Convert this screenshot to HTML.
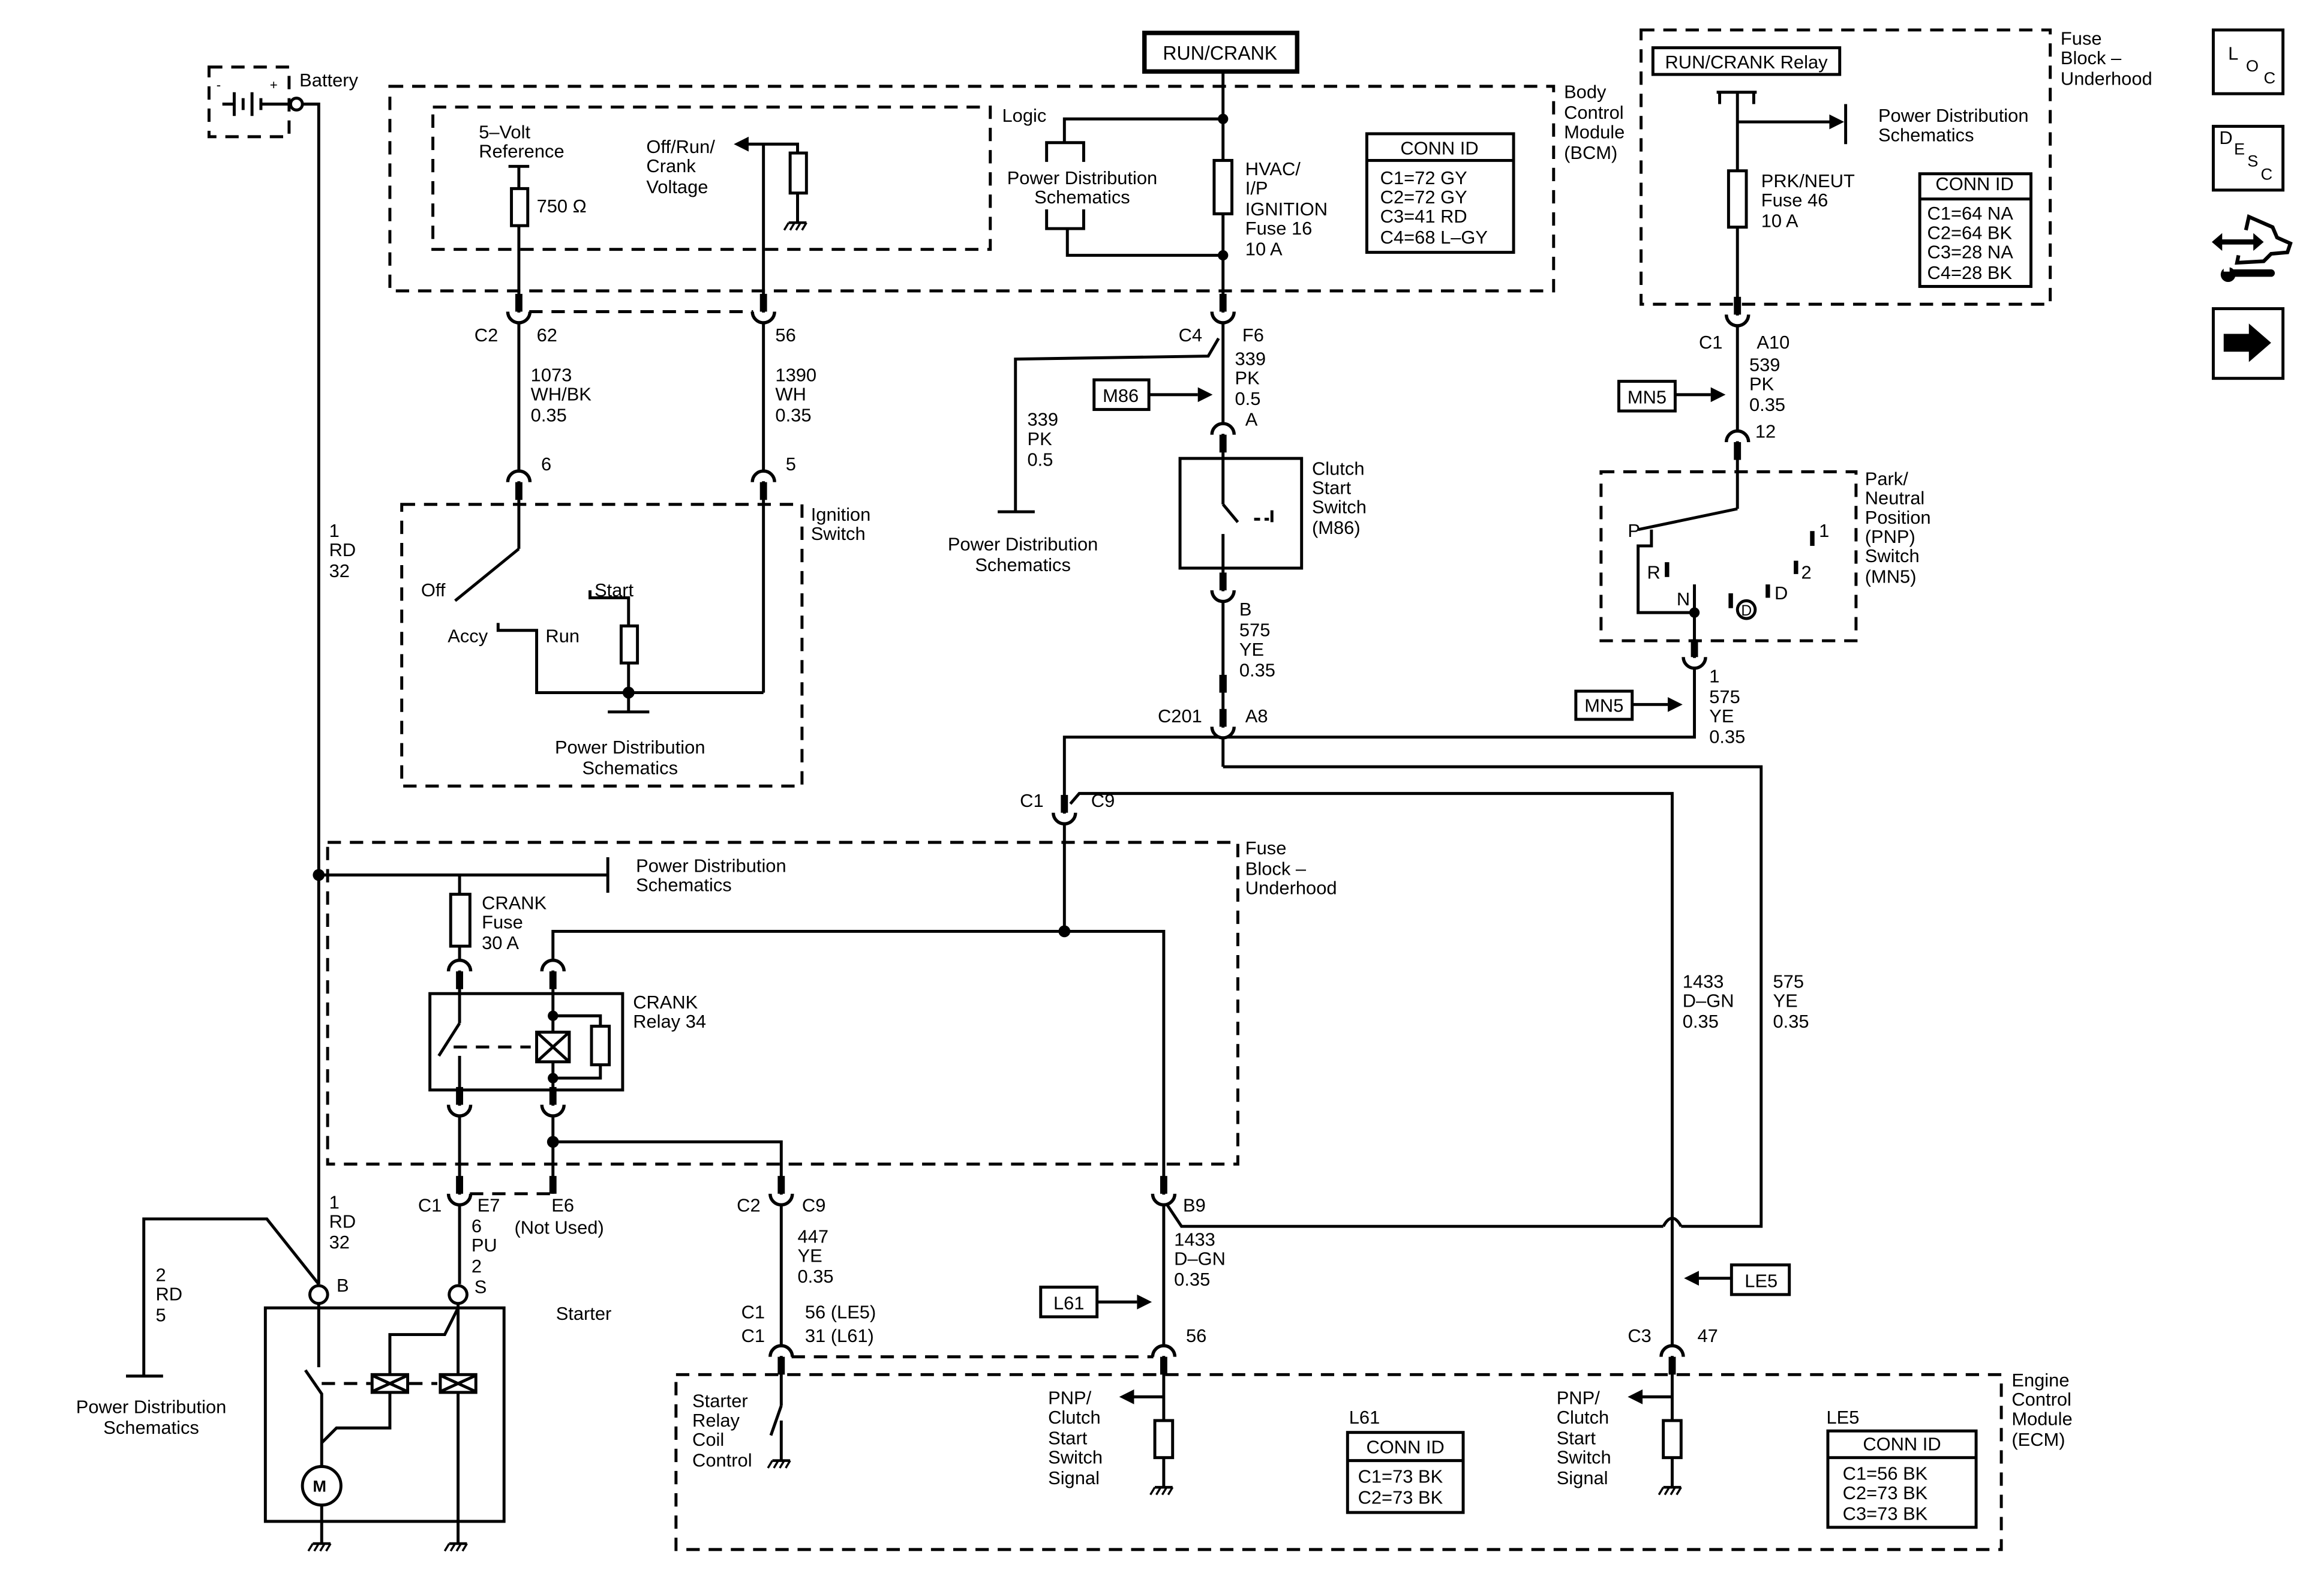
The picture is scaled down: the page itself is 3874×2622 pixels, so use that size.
<!DOCTYPE html>
<html><head><meta charset="utf-8"><style>
html,body{margin:0;padding:0;background:#fff;}
svg{display:block;}
text{font-family:"Liberation Sans",Arial,sans-serif;font-size:12.5px;fill:#000;}
</style></head><body>
<svg width="3874" height="2622" viewBox="0 0 1552 1050" xmlns="http://www.w3.org/2000/svg">
<defs>
<g id="cup"><rect x="-3.2" y="0.6" width="6.4" height="6.6" fill="#fff"/><rect x="-2.4" y="-12" width="4.8" height="12" fill="#000"/><path d="M-7.5,0 A7.5,7.5 0 0 0 7.5,0" fill="none" stroke="#000" stroke-width="2.2"/></g>
<g id="arch"><rect x="-3.2" y="-7.2" width="6.4" height="6.6" fill="#fff"/><rect x="-2.4" y="0" width="4.8" height="12" fill="#000"/><path d="M-7.5,0 A7.5,7.5 0 0 1 7.5,0" fill="none" stroke="#000" stroke-width="2.2"/></g>
<g id="gnd"><line x1="-6" y1="0" x2="6" y2="0" stroke="#000" stroke-width="1.8"/><line x1="-6" y1="0" x2="-9" y2="5" stroke="#000" stroke-width="1.4"/><line x1="-2" y1="0" x2="-5" y2="5" stroke="#000" stroke-width="1.4"/><line x1="2" y1="0" x2="-1" y2="5" stroke="#000" stroke-width="1.4"/><line x1="6" y1="0" x2="3" y2="5" stroke="#000" stroke-width="1.4"/></g>
</defs>
<g transform="scale(0.99)">
<g fill="none" stroke="#000" stroke-width="2">
<g stroke-dasharray="9,6">
<rect x="141" y="45" width="54" height="47"/>
<rect x="263" y="58" width="785" height="138"/>
<rect x="292" y="72" width="376" height="96"/>
<rect x="271" y="340" width="270" height="190"/>
<rect x="221" y="568" width="614" height="217"/>
<rect x="456" y="927" width="894" height="118"/>
<rect x="1107" y="20" width="276" height="185"/>
<rect x="1080" y="318" width="172" height="114"/>
<line x1="357" y1="210" x2="508" y2="210"/>
<line x1="534" y1="915" x2="778" y2="915"/>
<line x1="317" y1="805" x2="371" y2="805"/>
<line x1="306" y1="706" x2="358" y2="706"/>
<line x1="217" y1="933" x2="250" y2="933"/>
<line x1="276" y1="933" x2="295" y2="933"/>
</g>
<line x1="150" y1="70" x2="158" y2="70"/><line x1="158" y1="62" x2="158" y2="78"/><line x1="164" y1="66" x2="164" y2="74"/><line x1="170" y1="62" x2="170" y2="78"/><line x1="176" y1="66" x2="176" y2="74"/><line x1="176" y1="70" x2="196" y2="70"/>
<circle cx="200" cy="70" r="4" fill="#fff"/>
<polyline points="204,70 215,70 215,866"/>
<line x1="215" y1="590" x2="410" y2="590"/>
<line x1="410" y1="578" x2="410" y2="602"/>
<line x1="343" y1="112" x2="357" y2="112"/>
<line x1="350" y1="112" x2="350" y2="370"/>
<rect x="345" y="127" width="11" height="25" fill="#fff"/>
<line x1="515" y1="97" x2="515" y2="467"/>
<polyline points="497,97 538,97 538,150"/>
<rect x="533" y="103" width="11" height="27" fill="#fff"/>
<line x1="350" y1="370" x2="307" y2="405"/>
<polyline points="515,467 362,467 362,425 336,425 336,420"/>
<polyline points="398,398 398,403 424,403 424,480"/>
<rect x="419" y="422" width="11" height="25" fill="#fff"/>
<line x1="410" y1="480" x2="438" y2="480"/>
<rect x="772" y="22" width="103" height="26" stroke-width="3"/>
<line x1="825" y1="48" x2="825" y2="340"/>
<polyline points="825,80 718,80 718,96"/>
<polyline points="706,109 706,96 731,96 731,109"/>
<polyline points="706,141 706,154 731,154 731,141"/>
<polyline points="720,154 720,172 825,172"/>
<rect x="819" y="108" width="12" height="36" fill="#fff"/>
<rect x="922" y="90" width="99" height="80"/>
<line x1="922" y1="108" x2="1021" y2="108"/>
<polyline points="822,228 815,240 685,242 685,345"/>
<line x1="673" y1="345" x2="698" y2="345"/>
<rect x="796" y="309" width="82" height="74"/>
<line x1="825" y1="340" x2="835" y2="352"/>
<line x1="846" y1="350" x2="856" y2="350" stroke-dasharray="4,3"/><line x1="858" y1="344" x2="858" y2="352"/>
<line x1="825" y1="360" x2="825" y2="517"/>
<line x1="825" y1="455" x2="825" y2="467" stroke-width="5"/>
<polyline points="718,628 718,497 1143,497 1143,398"/>
<polyline points="825,517 1188,517 1188,827 1134,827"/>
<path d="M1122,827 Q1128,816 1134,827"/>
<polyline points="1122,827 797,827 787,812"/>
<polyline points="722,542 728,535 1128,535 1128,958"/>
<polyline points="373,655 373,628 785,628 785,958"/>
<line x1="310" y1="590" x2="310" y2="690"/>
<line x1="310" y1="712" x2="310" y2="866"/>
<rect x="304" y="603" width="13" height="35" fill="#fff"/>
<rect x="290" y="670" width="130" height="65"/>
<line x1="310" y1="690" x2="296" y2="712"/>
<line x1="373" y1="655" x2="373" y2="805"/>
<rect x="362" y="696" width="22" height="20" fill="#fff"/>
<line x1="362" y1="696" x2="384" y2="716"/><line x1="384" y1="696" x2="362" y2="716"/>
<polyline points="373,685 405,685 405,727 373,727"/>
<rect x="399" y="692" width="12" height="26" fill="#fff"/>
<polyline points="373,770 527,770 527,948"/>
<rect x="179" y="882" width="161" height="144"/>
<polyline points="97,928 97,822 180,822 215,866"/>
<line x1="85" y1="928" x2="110" y2="928"/>
<circle cx="215" cy="873" r="6" fill="#fff"/>
<circle cx="309" cy="873" r="6" fill="#fff"/>
<line x1="215" y1="879" x2="215" y2="922"/>
<polyline points="206,924 217,940 217,989"/>
<circle cx="217" cy="1002" r="13" fill="#fff"/>
<line x1="217" y1="1015" x2="217" y2="1041"/>
<line x1="309" y1="879" x2="309" y2="1041"/>
<polyline points="217,973 227,963 263,963 263,939"/>
<polyline points="263,927 263,900 300,900 309,882"/>
<rect x="251" y="927" width="24" height="12" fill="#fff"/><line x1="252" y1="928" x2="274" y2="938"/><line x1="274" y1="928" x2="252" y2="938"/>
<rect x="297" y="927" width="24" height="12" fill="#fff"/><line x1="298" y1="928" x2="320" y2="938"/><line x1="320" y1="928" x2="298" y2="938"/>
<line x1="527" y1="948" x2="520" y2="968"/>
<line x1="527" y1="958" x2="527" y2="985"/>
<line x1="785" y1="942" x2="760" y2="942"/>
<rect x="779" y="958" width="12" height="25" fill="#fff"/>
<line x1="785" y1="983" x2="785" y2="1003"/>
<line x1="1128" y1="942" x2="1103" y2="942"/>
<rect x="1122" y="958" width="12" height="25" fill="#fff"/>
<line x1="1128" y1="983" x2="1128" y2="1003"/>
<rect x="909" y="966" width="78" height="54"/><line x1="909" y1="985" x2="987" y2="985"/>
<rect x="1233" y="965" width="100" height="65"/><line x1="1233" y1="983" x2="1333" y2="983"/>
<rect x="1115" y="32" width="126" height="18"/>
<line x1="1158" y1="62" x2="1185" y2="62"/><line x1="1160" y1="62" x2="1160" y2="70"/><line x1="1183" y1="62" x2="1183" y2="70"/>
<line x1="1172" y1="62" x2="1172" y2="343"/>
<line x1="1172" y1="82" x2="1235" y2="82"/>
<line x1="1245" y1="70" x2="1245" y2="97"/>
<rect x="1166" y="115" width="12" height="38" fill="#fff"/>
<rect x="1295" y="117" width="75" height="76"/><line x1="1295" y1="134" x2="1370" y2="134"/>
<polyline points="1172,343 1105,357"/>
<polyline points="1114,357 1114,368 1105,368 1105,413 1143,413"/>
<line x1="1143" y1="394" x2="1143" y2="443"/>
<circle cx="1178" cy="411" r="6"/>
<line x1="775" y1="266" x2="808" y2="266"/>
<line x1="740" y1="878" x2="767" y2="878"/>
<line x1="1146" y1="862" x2="1168" y2="862"/>
<line x1="1130" y1="266" x2="1154" y2="266"/>
<line x1="1101" y1="475" x2="1125" y2="475"/>
<rect x="1493" y="20" width="47" height="43"/>
<rect x="1493" y="85" width="47" height="43"/>
<rect x="1493" y="208" width="47" height="47"/>
<polyline points="1515,155 1517,146 1533,153 1536,160 1545,164 1543,170 1532,171 1527,176 1509,177 1510,172" stroke-width="2.5"/>
<line x1="1506" y1="184" x2="1532" y2="184" stroke-width="5" stroke-linecap="round"/>
<line x1="1496" y1="163" x2="1522" y2="163" stroke-width="3.5"/>
</g>
<g fill="#000">
<circle cx="215" cy="590" r="4"/><circle cx="424" cy="467" r="4"/><circle cx="718" cy="628" r="4"/><circle cx="373" cy="770" r="4"/><circle cx="825" cy="80" r="3.5"/><circle cx="825" cy="172" r="3.5"/>
<circle cx="373" cy="685" r="3.5"/><circle cx="373" cy="727" r="3.5"/><circle cx="1143" cy="413" r="3.5"/>
<rect x="1123" y="379" width="3" height="10"/><rect x="1166" y="400" width="3" height="10"/><rect x="1191" y="394" width="3" height="9"/><rect x="1210" y="378" width="3" height="9"/><rect x="1221" y="358" width="3" height="10"/>
<polygon points="495,97 505,92 505,102"/>
<polygon points="818,266 808,261 808,271"/><polygon points="777,878 767,873 767,883"/><polygon points="1136,862 1146,857 1146,867"/>
<polygon points="1164,266 1154,261 1154,271"/><polygon points="1135,475 1125,470 1125,480"/>
<polygon points="755,942 765,937 765,947"/><polygon points="1098,942 1108,937 1108,947"/>
<polygon points="1244,82 1234,77 1234,87"/>
<polygon points="1500,225 1517,225 1517,218 1532,231 1517,244 1517,237 1500,237"/>
<polygon points="1492,163 1499,157 1499,169"/><polygon points="1527,163 1520,157 1520,169"/>
<circle cx="1503" cy="185" r="5"/>
</g>
<rect x="1500" y="180" width="4" height="3" fill="#fff"/>
<use href="#cup" x="350" y="210"/><use href="#cup" x="515" y="210"/><use href="#cup" x="825" y="210"/><use href="#cup" x="1172" y="212"/>
<use href="#arch" x="350" y="325"/><use href="#arch" x="515" y="325"/><use href="#arch" x="825" y="293"/><use href="#arch" x="1172" y="298"/>
<use href="#cup" x="825" y="398"/><use href="#cup" x="825" y="490"/><use href="#cup" x="1143" y="443"/><use href="#cup" x="718" y="548"/>
<use href="#arch" x="310" y="655"/><use href="#arch" x="373" y="655"/><use href="#cup" x="310" y="745"/><use href="#cup" x="373" y="745"/>
<use href="#cup" x="310" y="805"/><use href="#cup" x="527" y="805"/><use href="#cup" x="785" y="805"/>
<rect x="370.6" y="793" width="4.8" height="12" fill="#000"/>
<use href="#arch" x="527" y="915"/><use href="#arch" x="785" y="915"/><use href="#arch" x="1128" y="915"/>
<use href="#gnd" x="538" y="150"/><use href="#gnd" x="527" y="985"/><use href="#gnd" x="785" y="1003"/><use href="#gnd" x="1128" y="1003"/><use href="#gnd" x="217" y="1041"/><use href="#gnd" x="309" y="1041"/>
<g fill="none" stroke="#000" stroke-width="2">
<rect x="738" y="256" width="37" height="20"/><rect x="702" y="868" width="38" height="20"/><rect x="1168" y="853" width="39" height="20"/>
<rect x="1092" y="257" width="38" height="20"/><rect x="1063" y="466" width="38" height="19"/>
</g>
<text x="202" y="58">Battery</text><text x="146" y="60" style="font-size:9px">-</text><text x="182" y="60" style="font-size:9px">+</text>
<text x="823" y="40" text-anchor="middle" style="font-size:13px">RUN/CRANK</text>
<text x="1178" y="46" text-anchor="middle">RUN/CRANK Relay</text>
<text x="676" y="82">Logic</text>
<text x="323" y="93">5–Volt</text><text x="323" y="106">Reference</text><text x="362" y="143">750 Ω</text>
<text x="436" y="103">Off/Run/</text><text x="436" y="116">Crank</text><text x="436" y="130">Voltage</text>
<text x="730" y="124" text-anchor="middle">Power Distribution</text><text x="730" y="137" text-anchor="middle">Schematics</text>
<text x="840" y="118">HVAC/</text><text x="840" y="131">I/P</text><text x="840" y="145">IGNITION</text><text x="840" y="158">Fuse 16</text><text x="840" y="172">10 A</text>
<text x="971" y="104" text-anchor="middle">CONN ID</text>
<text x="931" y="124">C1=72 GY</text><text x="931" y="137">C2=72 GY</text><text x="931" y="150">C3=41 RD</text><text x="931" y="164">C4=68 L–GY</text>
<text x="1055" y="66">Body</text><text x="1055" y="80">Control</text><text x="1055" y="93">Module</text><text x="1055" y="107">(BCM)</text>
<text x="1390" y="30">Fuse</text><text x="1390" y="43">Block –</text><text x="1390" y="57">Underhood</text>
<text x="1267" y="82">Power Distribution</text><text x="1267" y="95">Schematics</text>
<text x="1188" y="126">PRK/NEUT</text><text x="1188" y="139">Fuse 46</text><text x="1188" y="153">10 A</text>
<text x="1332" y="128" text-anchor="middle">CONN ID</text>
<text x="1300" y="148">C1=64 NA</text><text x="1300" y="161">C2=64 BK</text><text x="1300" y="174">C3=28 NA</text><text x="1300" y="188">C4=28 BK</text>
<text x="1503" y="40">L</text><text x="1515" y="48" style="font-size:11px">O</text><text x="1527" y="56" style="font-size:11px">C</text>
<text x="1497" y="97">D</text><text x="1507" y="104" style="font-size:11px">E</text><text x="1516" y="112" style="font-size:11px">S</text><text x="1525" y="121" style="font-size:11px">C</text>
<text x="320" y="230">C2</text><text x="362" y="230">62</text><text x="523" y="230">56</text>
<text x="795" y="230">C4</text><text x="838" y="230">F6</text>
<text x="1146" y="235">C1</text><text x="1185" y="235">A10</text>
<text x="358" y="257">1073</text><text x="358" y="270">WH/BK</text><text x="358" y="284">0.35</text>
<text x="523" y="257">1390</text><text x="523" y="270">WH</text><text x="523" y="284">0.35</text>
<text x="833" y="246">339</text><text x="833" y="259">PK</text><text x="833" y="273">0.5</text><text x="840" y="287">A</text>
<text x="693" y="287">339</text><text x="693" y="300">PK</text><text x="693" y="314">0.5</text>
<text x="756" y="271" text-anchor="middle">M86</text>
<text x="1180" y="250">539</text><text x="1180" y="263">PK</text><text x="1180" y="277">0.35</text><text x="1184" y="295">12</text>
<text x="1111" y="272" text-anchor="middle">MN5</text>
<text x="365" y="317">6</text><text x="530" y="317">5</text>
<text x="547" y="351">Ignition</text><text x="547" y="364">Switch</text>
<text x="690" y="371" text-anchor="middle">Power Distribution</text><text x="690" y="385" text-anchor="middle">Schematics</text>
<text x="885" y="320">Clutch</text><text x="885" y="333">Start</text><text x="885" y="346">Switch</text><text x="885" y="360">(M86)</text>
<text x="1258" y="327">Park/</text><text x="1258" y="340">Neutral</text><text x="1258" y="353">Position</text><text x="1258" y="366">(PNP)</text><text x="1258" y="379">Switch</text><text x="1258" y="393">(MN5)</text>
<text x="1098" y="362">P</text><text x="1111" y="390">R</text><text x="1131" y="408">N</text><text x="1197" y="404">D</text><text x="1174.5" y="415" style="font-size:10px">D</text><text x="1227" y="362">1</text><text x="1215" y="390">2</text>
<text x="284" y="402">Off</text><text x="302" y="433">Accy</text><text x="368" y="433">Run</text><text x="401" y="402">Start</text>
<text x="425" y="508" text-anchor="middle">Power Distribution</text><text x="425" y="522" text-anchor="middle">Schematics</text>
<text x="836" y="415">B</text><text x="836" y="429">575</text><text x="836" y="442">YE</text><text x="836" y="456">0.35</text>
<text x="1153" y="460">1</text><text x="1153" y="474">575</text><text x="1153" y="487">YE</text><text x="1153" y="501">0.35</text>
<text x="1082" y="480" text-anchor="middle">MN5</text>
<text x="781" y="487">C201</text><text x="840" y="487">A8</text>
<text x="688" y="544">C1</text><text x="736" y="544">C9</text>
<text x="222" y="362">1</text><text x="222" y="375">RD</text><text x="222" y="389">32</text>
<text x="429" y="588">Power Distribution</text><text x="429" y="601">Schematics</text>
<text x="840" y="576">Fuse</text><text x="840" y="590">Block –</text><text x="840" y="603">Underhood</text>
<text x="325" y="613">CRANK</text><text x="325" y="626">Fuse</text><text x="325" y="640">30 A</text>
<text x="427" y="680">CRANK</text><text x="427" y="693">Relay 34</text>
<text x="1135" y="666">1433</text><text x="1135" y="679">D–GN</text><text x="1135" y="693">0.35</text>
<text x="1196" y="666">575</text><text x="1196" y="679">YE</text><text x="1196" y="693">0.35</text>
<text x="222" y="815">1</text><text x="222" y="828">RD</text><text x="222" y="842">32</text>
<text x="282" y="817">C1</text><text x="322" y="817">E7</text><text x="372" y="817">E6</text><text x="347" y="832">(Not Used)</text>
<text x="318" y="831">6</text><text x="318" y="844">PU</text><text x="318" y="858">2</text><text x="320" y="872">S</text>
<text x="497" y="817">C2</text><text x="541" y="817">C9</text><text x="798" y="817">B9</text>
<text x="538" y="838">447</text><text x="538" y="851">YE</text><text x="538" y="865">0.35</text>
<text x="792" y="840">1433</text><text x="792" y="853">D–GN</text><text x="792" y="867">0.35</text>
<text x="105" y="864">2</text><text x="105" y="877">RD</text><text x="105" y="891">5</text>
<text x="227" y="871">B</text><text x="375" y="890">Starter</text>
<text x="721" y="883" text-anchor="middle">L61</text><text x="1188" y="868" text-anchor="middle">LE5</text>
<text x="500" y="889">C1</text><text x="500" y="905">C1</text><text x="543" y="889">56 (LE5)</text><text x="543" y="905">31 (L61)</text>
<text x="800" y="905">56</text><text x="1098" y="905">C3</text><text x="1145" y="905">47</text>
<text x="102" y="953" text-anchor="middle">Power Distribution</text><text x="102" y="967" text-anchor="middle">Schematics</text>
<text x="1357" y="935">Engine</text><text x="1357" y="948">Control</text><text x="1357" y="961">Module</text><text x="1357" y="975">(ECM)</text>
<text x="467" y="949">Starter</text><text x="467" y="962">Relay</text><text x="467" y="975">Coil</text><text x="467" y="989">Control</text>
<text x="707" y="947">PNP/</text><text x="707" y="960">Clutch</text><text x="707" y="974">Start</text><text x="707" y="987">Switch</text><text x="707" y="1001">Signal</text>
<text x="1050" y="947">PNP/</text><text x="1050" y="960">Clutch</text><text x="1050" y="974">Start</text><text x="1050" y="987">Switch</text><text x="1050" y="1001">Signal</text>
<text x="910" y="960">L61</text><text x="1232" y="960">LE5</text>
<text x="948" y="980" text-anchor="middle">CONN ID</text><text x="916" y="1000">C1=73 BK</text><text x="916" y="1014">C2=73 BK</text>
<text x="1283" y="978" text-anchor="middle">CONN ID</text><text x="1243" y="998">C1=56 BK</text><text x="1243" y="1011">C2=73 BK</text><text x="1243" y="1025">C3=73 BK</text>
<text x="211" y="1006" style="font-size:11px;font-weight:bold">M</text>
</g>
</svg>
</body></html>
